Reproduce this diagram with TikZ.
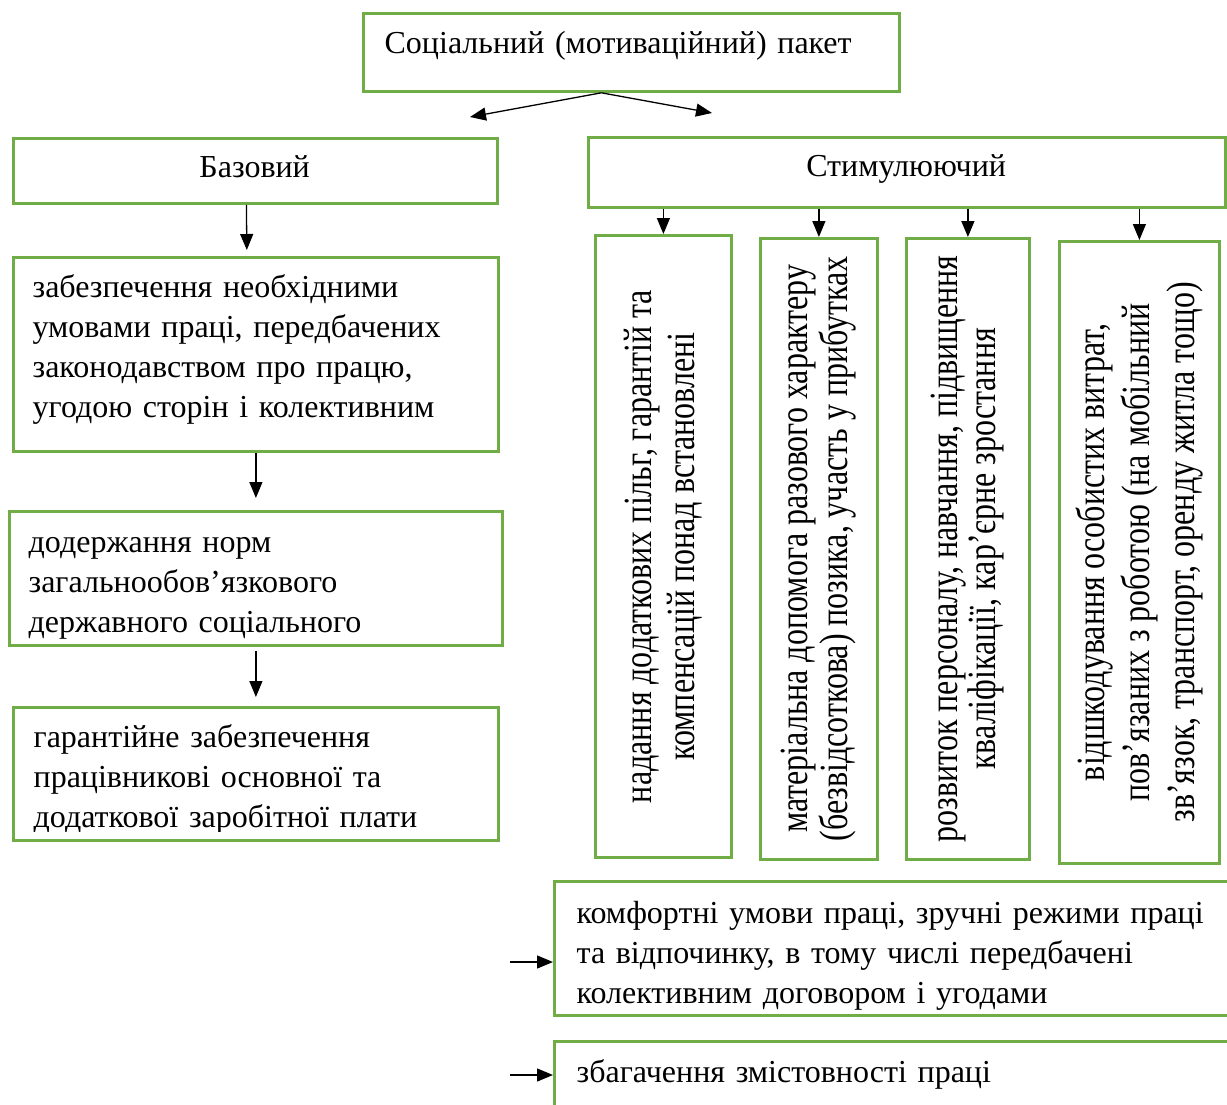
\documentclass[tikz,border=0pt]{standalone}
\usepackage{fontspec}
\setmainfont[WordSpace=0.8]{Liberation Serif}
\newfontfamily\narrowserif[FakeStretch=0.8]{Liberation Serif}
\usetikzlibrary{arrows.meta}
\definecolor{boxgreen}{RGB}{112,173,71}

\begin{document}
\begin{tikzpicture}[x=1pt,y=-1pt,->,>={Triangle[length=16pt,width=13pt]},line width=1.3pt,
    green box/.style={rectangle,draw=boxgreen,line width=2.8pt,inner sep=0pt,anchor=north west},
    box text/.style={inner sep=0pt,anchor=base west,text width=#1,align=left,font=\fontsize{32}{40}\selectfont},
    side text/.style={rotate=90,inner sep=0pt,align=center,font=\narrowserif\fontsize{40}{#1}\selectfont}]

  \useasboundingbox (0,0) rectangle (1227,1104);

  % boxes
  \node[green box,minimum width=536pt,minimum height=78pt] (1) at (362,12) {};
  \node[green box,minimum width=484pt,minimum height=65pt] (2) at (12,137) {};
  \node[green box,minimum width=485pt,minimum height=194pt] (3) at (12,256) {};
  \node[green box,minimum width=493pt,minimum height=134pt] (4) at (8,510) {};
  \node[green box,minimum width=485pt,minimum height=133pt] (5) at (12,706) {};
  \node[green box,minimum width=637pt,minimum height=70pt] (6) at (587,136) {};
  \node[green box,minimum width=136pt,minimum height=622pt] (7) at (594,234) {};
  \node[green box,minimum width=117pt,minimum height=621pt] (8) at (759,237) {};
  \node[green box,minimum width=123pt,minimum height=621pt] (9) at (905,237) {};
  \node[green box,minimum width=160pt,minimum height=622pt] (10) at (1058,240) {};
  \node[green box,minimum width=690pt,minimum height=134pt] (11) at (553,880) {};
  \node[green box,minimum width=690pt,minimum height=90pt] (12) at (553,1040) {};

  % texts
  \node[box text=500pt] (1t) at (384,53) {Соціальний (мотиваційний) пакет};
  \node[box text=484pt,align=center] (2t) at (12,177) {Базовий};
  \node[box text=450pt] (3t) at (32,297) {забезпечення необхідними\\умовами праці, передбачених\\законодавством про працю,\\угодою сторін і колективним};
  \node[box text=450pt] (4t) at (28,552) {додержання норм\\загальнообов’язкового\\державного соціального};
  \begin{scope}[-]
    \clip (5.north west) rectangle ([yshift=10pt]5.south east);
    \node[box text=450pt] (5t) at (33,747) {гарантійне забезпечення\\працівникові основної та\\додаткової заробітної плати};
  \end{scope}
  \node[box text=637pt,align=center] (6t) at (587,176) {Стимулюючий};
  \node[side text=43pt] (7t) at (7) {надання додаткових пільг, гарантій та\\компенсацій понад встановлені};
  \node[side text=40pt] (8t) at (8) {матеріальна допомога разового характеру\\(безвідсоткова) позика, участь у прибутках};
  \node[side text=38pt] (9t) at (9) {розвиток персоналу, навчання, підвищення\\кваліфікації, кар’єрне зростання};
  \node[side text=45pt] (10t) at (10) {відшкодування особистих витрат,\\пов’язаних з роботою (на мобільний\\зв’язок, транспорт, оренду житла тощо)};
  \node[box text=640pt] (11t) at (576,923) {комфортні умови праці, зручні режими праці\\та відпочинку, в тому числі передбачені\\колективним договором і угодами};
  \node[box text=640pt] (12t) at (576,1082) {збагачення змістовності праці};

  % arrows
  \coordinate (1a) at (470,117);
  \coordinate (1b) at (712,113);
  \coordinate (11a) at (510,962);
  \coordinate (12a) at (510,1075);

  \path ([xshift=-30pt]1.south) edge (1a)
        ([xshift=-30pt]1.south) edge (1b)
        ([xshift=-9pt]2.south) edge[shorten >=6pt] ([xshift=-9pt]3.north)
        (3) edge[shorten >=12pt] (4)
        (4) edge[shorten <=4pt,shorten >=9pt] (5)
        (6.south -| 7.north) edge (7)
        (6.south -| 8.north) edge (8)
        (6.south -| 9.north) edge (9)
        (6.south -| 10.north) edge (10)
        (11a) edge (11a -| 11.west)
        (12a) edge (12a -| 12.west);
\end{tikzpicture}
\end{document}
